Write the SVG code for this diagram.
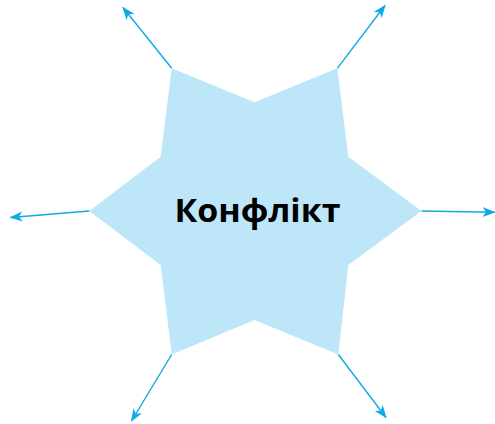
<svg xmlns="http://www.w3.org/2000/svg" width="495" height="424" viewBox="0 0 495 424">
<style>
.star{fill:#bde6f9;stroke:none}
.arr{stroke:#10a8e6;stroke-width:1.4;fill:none;marker-end:url(#ah)}
.lbl{font-family:"Open Sans","Liberation Sans",sans-serif;font-weight:bold;font-size:32px;fill:#000}
</style>
<defs>
<marker id="ah" markerUnits="userSpaceOnUse" markerWidth="14" markerHeight="12" viewBox="0 0 14 12" refX="12" refY="6" orient="auto">
<path d="M0,1 L13,6 L0,11 L3.5,6 Z" fill="#10a8e6"/>
</marker>
</defs>
<rect width="495" height="424" fill="#fff"/>
<g id="node-konflikt">
<polygon class="star" points="171.7,68.3 254.5,102.3 337.3,68.3 348.3,156.7 421.5,211 348.3,265 338.3,354.5 254.5,320 171.7,354.5 160.7,265 89.3,211 160.7,156.7"/>
<text class="lbl" x="257.5" y="222" text-anchor="middle" textLength="166" lengthAdjust="spacingAndGlyphs">Конфлікт</text>
</g>
<g id="connectors">
<line class="arr" x1="171.7" y1="68.3" x2="123" y2="7.5"/>
<line class="arr" x1="337.3" y1="68.3" x2="385" y2="5.5"/>
<line class="arr" x1="421.5" y1="211" x2="494.5" y2="212.3"/>
<line class="arr" x1="338.3" y1="354.5" x2="386" y2="417.5"/>
<line class="arr" x1="171.7" y1="354.5" x2="131.5" y2="421"/>
<line class="arr" x1="89.3" y1="211" x2="10.5" y2="217.5"/>
</g>
</svg>
